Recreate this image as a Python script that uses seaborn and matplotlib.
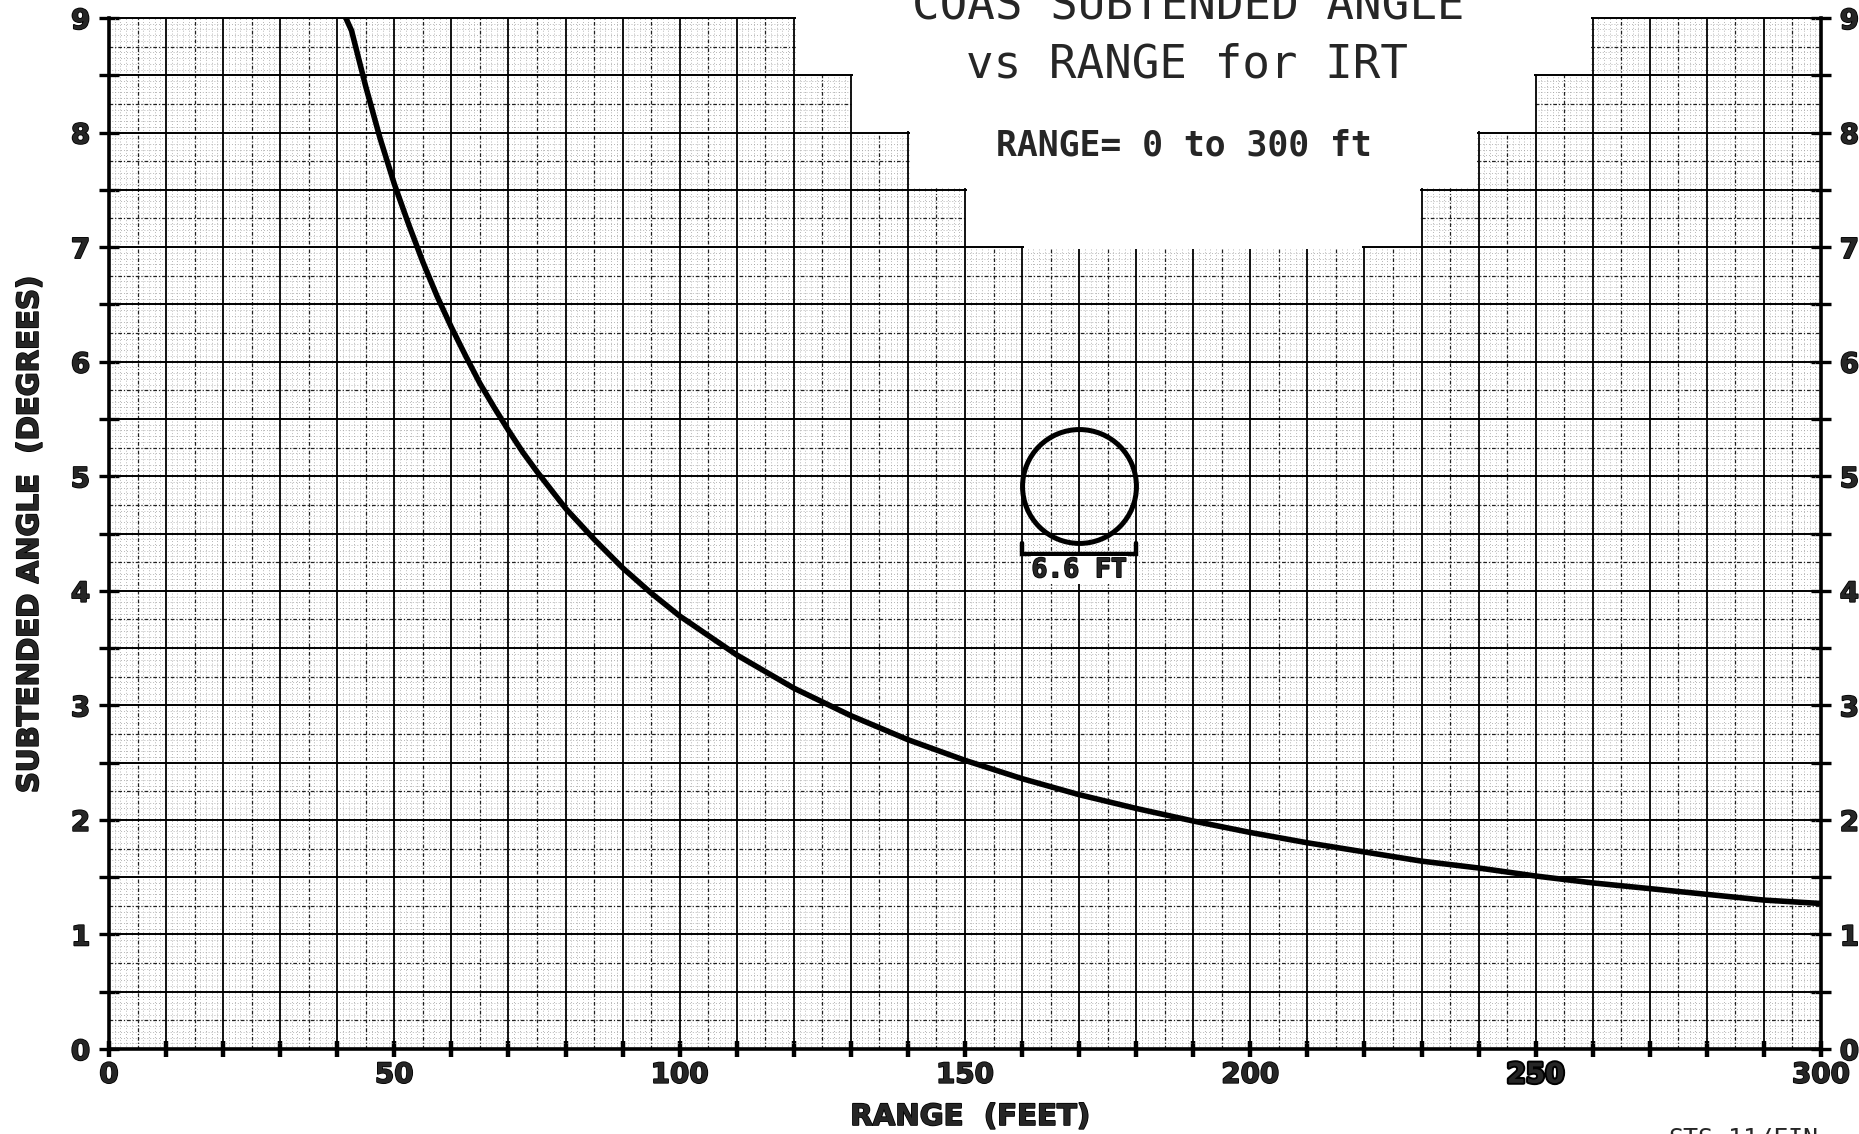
import numpy as np
import matplotlib
matplotlib.use("Agg")
import matplotlib.pyplot as plt
import seaborn as sns
from matplotlib.patches import Polygon
import matplotlib.patheffects as pe

# range (ft) and subtended angle (deg)
range_ft = [41.5, 42.5, 45, 47.5, 50, 52.5, 55, 57.5, 60, 62.5, 65, 67.5, 70,
            72.5, 75, 77.5, 80, 85, 90, 95, 100, 110, 120, 130, 140, 150, 160,
            170, 180, 190, 200, 210, 220, 230, 240, 250, 260, 270, 280, 290, 300]
angle_deg = [9.0, 8.89, 8.4, 7.95, 7.55, 7.2, 6.87, 6.57, 6.3, 6.05, 5.81, 5.6, 5.4,
             5.21, 5.04, 4.88, 4.72, 4.45, 4.2, 3.98, 3.78, 3.44, 3.15, 2.91, 2.7, 2.52, 2.36,
             2.22, 2.1, 1.99, 1.89, 1.8, 1.72, 1.64, 1.58, 1.51, 1.45, 1.4, 1.35, 1.3, 1.27]

x_ticks = [0, 50, 100, 150, 200, 250, 300]
y_ticks = [0, 1, 2, 3, 4, 5, 6, 7, 8, 9]

title_lines = ["COAS SUBTENDED ANGLE", "vs RANGE for IRT"]
subtitle = "RANGE= 0 to 300 ft"
object_label = "6.6 FT"

sns.set_theme(style="white")
plt.rcParams["font.family"] = ["DejaVu Sans"]

W, H = 1859, 1134
fig = plt.figure(figsize=(W / 100, H / 100), dpi=100)
ax = fig.add_axes([109 / W, 1 - 1049 / H, (1821 - 109) / W, (1049 - 18) / H])
ax.set_xlim(0, 300)
ax.set_ylim(0, 9)

# graph paper grid
for xv in np.arange(1, 300, 1):
    if xv % 5 == 0:
        continue
    ax.axvline(xv, color="#a0a0a0", lw=0.6, ls=(0, (1, 2.5)), zorder=1)
for yv in np.arange(0.05, 9, 0.05):
    if round(yv * 100) % 25 == 0:
        continue
    ax.axhline(yv, color="#a0a0a0", lw=0.6, ls=(0, (1, 2.5)), zorder=1)
for xv in range(5, 300, 10):
    ax.axvline(xv, color="#222222", lw=0.9, ls=(0, (3, 1.5, 1, 1.5)), zorder=2)
for yv in np.arange(0.25, 9, 0.5):
    ax.axhline(yv, color="#222222", lw=0.9, ls=(0, (3, 1.5, 1, 1.5)), zorder=2)
for xv in range(10, 300, 10):
    ax.axvline(xv, color="black", lw=1.3, zorder=3)
for yv in np.arange(0.5, 9.01, 0.5):
    ax.axhline(yv, color="black", lw=1.4, zorder=3, clip_on=False)

# white stepped area behind the title
ex, ey = 0.35, 0.013
mask = [(120 + ex, 9.6), (120 + ex, 8.5 + ey), (130 + ex, 8.5 + ey), (130 + ex, 8 + ey),
        (140 + ex, 8 + ey), (140 + ex, 7.5 + ey), (150 + ex, 7.5 + ey), (150 + ex, 7 + ey),
        (160 + ex, 7 + ey), (160 + ex, 7 - ey), (220 - ex, 7 - ey), (220 - ex, 7 + ey),
        (230 - ex, 7 + ey), (230 - ex, 7.5 + ey), (240 - ex, 7.5 + ey), (240 - ex, 8 + ey),
        (250 - ex, 8 + ey), (250 - ex, 8.5 + ey), (260 - ex, 8.5 + ey), (260 - ex, 9.6)]
ax.add_patch(Polygon(mask, closed=True, facecolor="white", edgecolor="none",
                     zorder=4, clip_on=False))

sns.lineplot(x=range_ft, y=angle_deg, color="black", linewidth=4.0, ax=ax,
             zorder=6, sort=False)
ax.lines[-1].set_solid_capstyle("round")
ax.lines[-1].set_solid_joinstyle("round")

# object sketch
ax.plot([170], [4.915], marker="o", markersize=82, mfc="none", mec="black",
        mew=3.6, zorder=6)
ax.plot([160, 160, 180, 180], [4.42, 4.32, 4.32, 4.42], color="black", lw=3.2,
        zorder=6, solid_joinstyle="miter")
ax.text(170, 4.18, object_label, ha="center", va="center", fontsize=19,
        fontweight="bold", family="DejaVu Sans Mono", zorder=7,
        bbox=dict(facecolor="white", edgecolor="none", pad=0.5),
        path_effects=[pe.withStroke(linewidth=1.2, foreground="black")])

# axes styling
for side in ["left", "bottom", "right"]:
    ax.spines[side].set_linewidth(2.6)
    ax.spines[side].set_color("black")
    ax.spines[side].set_zorder(8)
ax.spines["top"].set_visible(False)

ax.set_xticks(x_ticks)
ax.set_xticks(range(10, 300, 10), minor=True)
ax.set_yticks(y_ticks)
ax.set_yticks(np.arange(0.5, 9, 1.0), minor=True)
ax.tick_params(axis="y", which="both", direction="inout", length=15, width=2.4,
               left=True, right=True, labelleft=True, labelright=True, color="black")
ax.tick_params(axis="y", which="major", pad=6, labelsize=20)
ax.tick_params(axis="x", which="both", direction="inout", length=11, width=3.2,
               bottom=True, color="black")
ax.tick_params(axis="x", which="major", pad=3, labelsize=20)
heavy = [pe.withStroke(linewidth=1.2, foreground="black")]
for lab in ax.xaxis.get_ticklabels(which="major") + ax.yaxis.get_ticklabels(which="major"):
    lab.set_fontweight("bold")
    lab.set_path_effects(heavy)
ax.xaxis.get_majorticklabels()[5].set_path_effects(
    [pe.withStroke(linewidth=2.8, foreground="black")])
ax.set_xlabel("")
ax.set_ylabel("")

# texts
fig.text(1188 / W, 1 - 20 / H, title_lines[0], ha="center", va="baseline",
         fontsize=33, family="DejaVu Sans Mono")
fig.text(1187 / W, 1 - 78 / H, title_lines[1], ha="center", va="baseline",
         fontsize=33, family="DejaVu Sans Mono")
fig.text(1184 / W, 1 - 156 / H, subtitle, ha="center", va="baseline",
         fontsize=25, fontweight="bold", family="DejaVu Sans Mono")
fig.text(30 / W, 1 - 535 / H, "SUBTENDED ANGLE  (DEGREES)", rotation=90,
         ha="center", va="center", fontsize=21, fontweight="bold", path_effects=heavy)
fig.text(970 / W, 1 - 1117 / H, "RANGE  (FEET)", ha="center", va="center",
         fontsize=21, fontweight="bold", path_effects=heavy)
fig.text(1668 / W, 1 - 1127 / H, "STS-11/FIN", ha="left", va="top",
         fontsize=18, family="DejaVu Sans Mono")

fig.savefig("out.png", dpi=100, facecolor="white")
